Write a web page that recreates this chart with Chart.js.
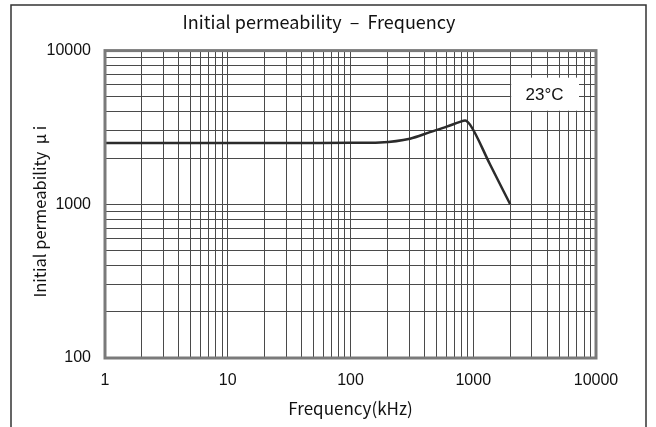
<!DOCTYPE html>
<html>
<head>
<meta charset="utf-8">
<script src="https://cdn.jsdelivr.net/npm/chart.js@4"></script>
<style>
  html, body { margin: 0; padding: 0; background: #fff; }
  #wrap { width: 656px; height: 427px; }
</style>
</head>
<body>
<div id="wrap"><canvas id="chart" width="656" height="427"></canvas></div>
<script>
// curve
const freqKHz = [1, 10, 50, 100, 174, 305, 444, 608, 780, 857, 941, 1368, 2000];
const permeability = [2505, 2505, 2506, 2510, 2528, 2673, 2950, 3200, 3440, 3515, 3298, 1822, 1000];

// axes
const xDecades = [1, 10, 100, 1000, 10000];
const yDecades = [100, 1000, 10000];
const mantissas = [1, 2, 3, 4, 5, 6, 7, 8, 9];

const tempLabel = "23°C";
const tempBox = { x0: 2000, x1: 7270, y0: 4065, y1: 6670 };

const COLORS = {
  line: "#2b2b2b",
  grid: "#4a4a4a",
  plotBorder: "#7a7a7a",
  frame: "#333",
  text: "#111",
};

const gridValues = (decades) => {
  const out = [];
  decades.forEach((d, i) => {
    if (i === decades.length - 1) out.push(d);
    else mantissas.forEach((m) => out.push(d * m));
  });
  return out;
};

const decorations = {
  id: "decorations",
  beforeDraw(chart) {
    const { ctx } = chart;
    ctx.save();
    ctx.fillStyle = "#fff";
    ctx.fillRect(0, 0, chart.width, chart.height);
    ctx.restore();
  },
  afterDraw(chart) {
    const { ctx, chartArea: a, scales } = chart;
    ctx.save();
    // temperature label box
    const bx0 = scales.x.getPixelForValue(tempBox.x0);
    const bx1 = scales.x.getPixelForValue(tempBox.x1);
    const by0 = scales.y.getPixelForValue(tempBox.y1);
    const by1 = scales.y.getPixelForValue(tempBox.y0);
    ctx.fillStyle = "#fff";
    ctx.fillRect(bx0 + 1, by0, bx1 - bx0 - 1, by1 - by0);
    ctx.fillStyle = COLORS.text;
    ctx.font = "17px 'Liberation Sans', Arial, sans-serif";
    ctx.textAlign = "center";
    ctx.textBaseline = "middle";
    ctx.fillText(tempLabel, (bx0 + bx1) / 2, (by0 + by1) / 2 + 1);
    // plot border
    ctx.strokeStyle = COLORS.plotBorder;
    ctx.lineWidth = 3;
    ctx.strokeRect(a.left, a.top, a.right - a.left, a.bottom - a.top);
    // outer frame (open at the bottom)
    ctx.strokeStyle = COLORS.frame;
    ctx.lineWidth = 1.5;
    ctx.beginPath();
    ctx.moveTo(11, chart.height);
    ctx.lineTo(11, 5);
    ctx.lineTo(646, 5);
    ctx.lineTo(646, chart.height);
    ctx.stroke();
    ctx.restore();
  },
};

const gothic = "'Noto Sans CJK JP', 'Noto Sans', sans-serif";
const sans = "'Liberation Sans', Arial, sans-serif";

new Chart(document.getElementById("chart"), {
  type: "line",
  data: {
    datasets: [{
      data: freqKHz.map((f, i) => ({ x: f, y: permeability[i] })),
      borderColor: COLORS.line,
      borderWidth: 2.5,
      pointRadius: 0,
      cubicInterpolationMode: "monotone",
    }],
  },
  options: {
    responsive: false,
    animation: false,
    layout: { padding: { left: 42, right: 60, top: 0, bottom: 0 } },
    plugins: {
      legend: { display: false },
      tooltip: { enabled: false },
      title: {
        display: true,
        text: "Initial permeability  \u2013  Frequency",
        color: COLORS.text,
        font: { family: gothic, size: 18, weight: "normal" },
        padding: { top: 11, bottom: 18 },
      },
    },
    scales: {
      x: {
        type: "logarithmic",
        min: 1,
        max: 10000,
        afterBuildTicks: (s) => { s.ticks = gridValues(xDecades).map((v) => ({ value: v })); },
        afterFit: (s) => { s.height = 69; },
        ticks: {
          autoSkip: false,
          maxRotation: 0,
          padding: 13,
          color: COLORS.text,
          font: { family: sans, size: 16 },
          callback: (v) => (xDecades.includes(v) ? String(v) : ""),
        },
        grid: { color: COLORS.grid, lineWidth: 1, drawTicks: false },
        border: { display: false },
        title: {
          display: true,
          text: "Frequency(kHz)",
          color: COLORS.text,
          font: { family: gothic, size: 17 },
          padding: { top: 0, bottom: 8 },
        },
      },
      y: {
        type: "logarithmic",
        min: 100,
        max: 10000,
        afterBuildTicks: (s) => { s.ticks = gridValues(yDecades).map((v) => ({ value: v })); },
        afterFit: (s) => { s.width = 63; },
        ticks: {
          autoSkip: false,
          padding: 14,
          color: COLORS.text,
          font: { family: sans, size: 16 },
          callback: (v) => (yDecades.includes(v) ? String(v) : ""),
        },
        grid: { color: COLORS.grid, lineWidth: 1, drawTicks: false },
        border: { display: false },
        title: {
          display: true,
          text: "Initial permeability  \u03bc i    ",
          color: COLORS.text,
          font: { family: gothic, size: 16.5 },
          padding: { top: -12, bottom: 0 },
        },
      },
    },
  },
  plugins: [decorations],
});
</script>
</body>
</html>
